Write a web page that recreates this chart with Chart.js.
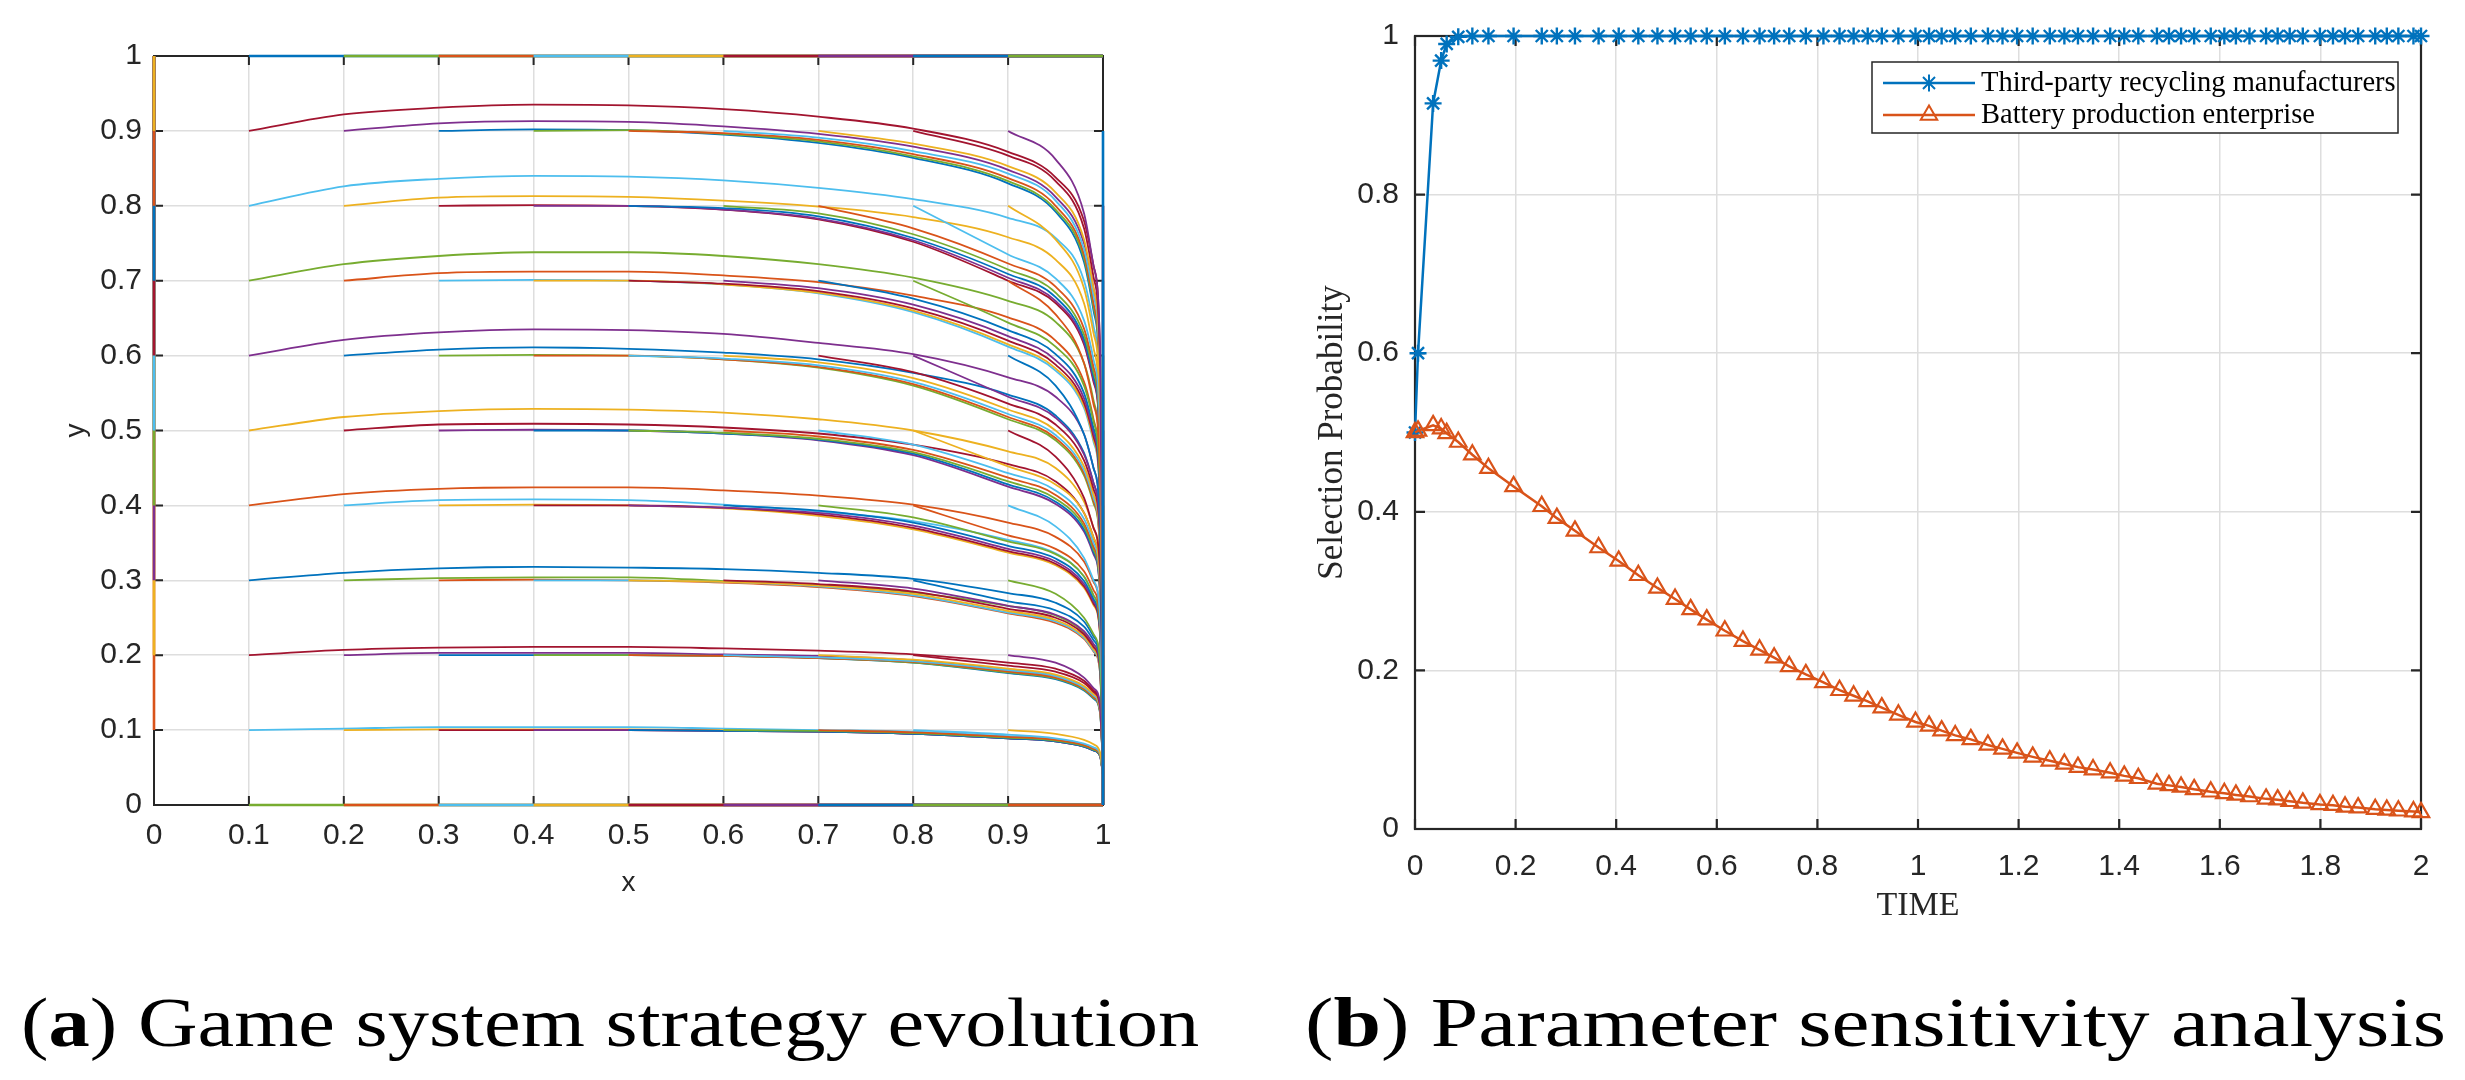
<!DOCTYPE html>
<html>
<head>
<meta charset="utf-8">
<script src="https://cdn.jsdelivr.net/npm/chart.js@4.4.0/dist/chart.umd.min.js"></script>
<style>
  body { margin: 0; background: #fff; width: 2465px; height: 1080px; position: relative; overflow: hidden; }
  #wrapA { position: absolute; left: 0; top: 0; width: 1232px; height: 960px; }
  #wrapB { position: absolute; left: 1232px; top: 0; width: 1233px; height: 960px; }
  .cap { position: absolute; font-family: "Liberation Serif", serif; font-size: 70px; line-height: 70px;
         white-space: nowrap; color: #000; transform-origin: 0 0; }
</style>
</head>
<body>
<div id="wrapA"><canvas id="chartA" width="1232" height="960"></canvas></div>
<div id="wrapB"><canvas id="chartB" width="1233" height="960"></canvas></div>
<div class="cap" data-w="1178" style="left:21px;top:988px">(<b>a</b>) Game system strategy evolution</div>
<div class="cap" data-w="1141" style="left:1305px;top:988px">(<b>b</b>) Parameter sensitivity analysis</div>

<script>
// === DATA (a): phase trajectories ===
const matlabColors = ['#0072BD', '#D95319', '#EDB120', '#7E2F8E', '#77AC30', '#4DBEEE', '#A2142F'];
const startLevels = [0.1, 0.2, 0.3, 0.4, 0.5, 0.6, 0.7, 0.8, 0.9];
const xGrid = [0.1, 0.2, 0.3, 0.4, 0.5, 0.6, 0.7, 0.8, 0.9, 0.95, 0.98, 0.99, 0.997, 1];

// each row: curves starting at x0 = 0.1 ... 0.9, y values on the tail of xGrid
const rowY10 = [
  [0.100,0.102,0.104,0.104,0.104,0.102,0.100,0.098,0.092,0.088,0.081,0.076,0.067,0.040],
  [0.100,0.101,0.101,0.101,0.100,0.098,0.096,0.090,0.086,0.079,0.074,0.066,0.040],
  [0.100,0.100,0.100,0.099,0.098,0.095,0.089,0.085,0.078,0.073,0.065,0.040],
  [0.100,0.100,0.099,0.098,0.095,0.089,0.085,0.078,0.073,0.065,0.040],
  [0.100,0.099,0.098,0.095,0.089,0.085,0.078,0.073,0.065,0.040],
  [0.100,0.099,0.096,0.090,0.086,0.079,0.074,0.066,0.040],
  [0.100,0.097,0.091,0.087,0.080,0.075,0.067,0.040],
  [0.100,0.094,0.089,0.082,0.077,0.068,0.040],
  [0.100,0.095,0.087,0.081,0.070,0.040]
];
const rowY20 = [
  [0.200,0.207,0.210,0.211,0.211,0.209,0.206,0.201,0.190,0.182,0.166,0.153,0.132,0.050],
  [0.200,0.203,0.203,0.203,0.201,0.199,0.193,0.180,0.172,0.157,0.145,0.125,0.050],
  [0.200,0.200,0.200,0.199,0.196,0.190,0.176,0.168,0.153,0.142,0.122,0.050],
  [0.200,0.200,0.199,0.196,0.190,0.177,0.169,0.154,0.143,0.123,0.050],
  [0.200,0.199,0.196,0.191,0.178,0.170,0.155,0.144,0.124,0.050],
  [0.200,0.197,0.192,0.180,0.172,0.157,0.146,0.126,0.050],
  [0.200,0.194,0.182,0.174,0.159,0.148,0.128,0.050],
  [0.200,0.186,0.178,0.163,0.151,0.130,0.050],
  [0.200,0.190,0.170,0.156,0.134,0.050]
];
const rowY30 = [
  [0.300,0.310,0.316,0.318,0.317,0.315,0.310,0.302,0.283,0.270,0.245,0.225,0.190,0.060],
  [0.300,0.303,0.304,0.304,0.299,0.294,0.284,0.266,0.253,0.230,0.212,0.180,0.060],
  [0.300,0.301,0.300,0.297,0.291,0.279,0.256,0.243,0.222,0.205,0.175,0.060],
  [0.300,0.300,0.298,0.292,0.280,0.257,0.245,0.223,0.206,0.176,0.060],
  [0.300,0.298,0.293,0.282,0.259,0.247,0.225,0.208,0.178,0.060],
  [0.300,0.295,0.285,0.262,0.250,0.228,0.211,0.180,0.060],
  [0.300,0.289,0.266,0.254,0.232,0.215,0.183,0.060],
  [0.300,0.272,0.260,0.238,0.220,0.187,0.060],
  [0.300,0.282,0.250,0.228,0.190,0.060]
];
const rowY40 = [
  [0.400,0.415,0.422,0.424,0.424,0.420,0.413,0.401,0.377,0.358,0.325,0.298,0.250,0.070],
  [0.400,0.407,0.408,0.407,0.401,0.392,0.379,0.354,0.336,0.305,0.280,0.235,0.070],
  [0.400,0.401,0.400,0.396,0.386,0.368,0.337,0.320,0.290,0.267,0.225,0.070],
  [0.400,0.400,0.397,0.388,0.370,0.339,0.322,0.292,0.269,0.227,0.070],
  [0.400,0.397,0.390,0.373,0.342,0.325,0.295,0.272,0.229,0.070],
  [0.400,0.393,0.377,0.346,0.329,0.299,0.275,0.232,0.070],
  [0.400,0.384,0.352,0.335,0.305,0.280,0.236,0.070],
  [0.400,0.360,0.342,0.312,0.287,0.242,0.070],
  [0.400,0.372,0.330,0.300,0.250,0.070]
];
const rowY50 = [
  [0.500,0.518,0.526,0.529,0.528,0.524,0.515,0.500,0.472,0.450,0.405,0.370,0.305,0.080],
  [0.500,0.508,0.509,0.508,0.504,0.496,0.481,0.455,0.432,0.390,0.357,0.295,0.080],
  [0.500,0.501,0.500,0.496,0.487,0.467,0.425,0.402,0.365,0.335,0.280,0.080],
  [0.500,0.500,0.496,0.488,0.469,0.428,0.405,0.368,0.338,0.282,0.080],
  [0.500,0.497,0.489,0.471,0.432,0.409,0.372,0.341,0.285,0.080],
  [0.500,0.492,0.474,0.437,0.414,0.376,0.345,0.288,0.080],
  [0.500,0.481,0.443,0.420,0.382,0.350,0.292,0.080],
  [0.500,0.452,0.428,0.390,0.357,0.298,0.080],
  [0.500,0.465,0.410,0.370,0.310,0.080]
];
const rowY60 = [
  [0.600,0.621,0.631,0.635,0.634,0.629,0.617,0.602,0.571,0.545,0.495,0.450,0.370,0.090],
  [0.600,0.608,0.611,0.609,0.604,0.595,0.577,0.548,0.520,0.470,0.430,0.355,0.090],
  [0.600,0.601,0.600,0.595,0.584,0.560,0.515,0.487,0.440,0.403,0.335,0.090],
  [0.600,0.600,0.595,0.585,0.562,0.518,0.490,0.443,0.406,0.337,0.090],
  [0.600,0.596,0.587,0.565,0.522,0.494,0.447,0.410,0.340,0.090],
  [0.600,0.591,0.570,0.528,0.500,0.452,0.415,0.344,0.090],
  [0.600,0.578,0.536,0.508,0.460,0.422,0.350,0.090],
  [0.600,0.545,0.517,0.468,0.430,0.356,0.090],
  [0.600,0.560,0.495,0.450,0.370,0.090]
];
const rowY70 = [
  [0.700,0.722,0.733,0.738,0.738,0.733,0.722,0.704,0.673,0.645,0.590,0.540,0.440,0.100],
  [0.700,0.710,0.712,0.712,0.707,0.698,0.680,0.651,0.620,0.565,0.515,0.420,0.100],
  [0.700,0.701,0.700,0.695,0.683,0.658,0.612,0.580,0.530,0.485,0.400,0.100],
  [0.700,0.700,0.695,0.684,0.660,0.615,0.583,0.533,0.488,0.402,0.100],
  [0.700,0.696,0.686,0.663,0.620,0.588,0.537,0.492,0.405,0.100],
  [0.700,0.690,0.668,0.626,0.594,0.543,0.497,0.410,0.100],
  [0.700,0.676,0.634,0.602,0.550,0.503,0.415,0.100],
  [0.700,0.644,0.612,0.560,0.512,0.420,0.100],
  [0.700,0.655,0.590,0.535,0.440,0.100]
];
const rowY80 = [
  [0.800,0.826,0.836,0.840,0.839,0.834,0.824,0.809,0.784,0.757,0.700,0.640,0.520,0.110],
  [0.800,0.811,0.813,0.812,0.807,0.799,0.785,0.758,0.728,0.670,0.610,0.500,0.110],
  [0.800,0.801,0.800,0.795,0.782,0.752,0.700,0.670,0.615,0.565,0.470,0.110],
  [0.800,0.800,0.795,0.783,0.754,0.704,0.673,0.618,0.568,0.472,0.110],
  [0.800,0.797,0.786,0.757,0.709,0.678,0.622,0.572,0.475,0.110],
  [0.800,0.790,0.762,0.715,0.684,0.628,0.578,0.480,0.110],
  [0.800,0.770,0.723,0.692,0.636,0.585,0.485,0.110],
  [0.800,0.735,0.703,0.647,0.595,0.490,0.110],
  [0.800,0.755,0.690,0.630,0.520,0.110]
];
const rowY90 = [
  [0.900,0.922,0.931,0.935,0.934,0.929,0.919,0.903,0.872,0.838,0.780,0.720,0.600,0.120],
  [0.900,0.910,0.913,0.912,0.906,0.896,0.879,0.848,0.812,0.750,0.690,0.570,0.120],
  [0.900,0.902,0.901,0.895,0.884,0.864,0.830,0.792,0.725,0.660,0.540,0.120],
  [0.900,0.901,0.896,0.886,0.866,0.833,0.795,0.730,0.665,0.545,0.120],
  [0.900,0.897,0.888,0.869,0.837,0.800,0.735,0.670,0.550,0.120],
  [0.900,0.891,0.873,0.843,0.807,0.742,0.680,0.560,0.120],
  [0.900,0.883,0.853,0.818,0.755,0.690,0.570,0.120],
  [0.900,0.867,0.833,0.770,0.705,0.585,0.120],
  [0.900,0.862,0.790,0.720,0.600,0.120]
];
const rowsByLevel = [rowY10, rowY20, rowY30, rowY40, rowY50, rowY60, rowY70, rowY80, rowY90];

// === DATA (b): sensitivity ===
const timePoints = [0, 0.006, 0.036, 0.052, 0.063, 0.086, 0.114, 0.146, 0.196, 0.252, 0.282, 0.318, 0.365,
  0.405, 0.444, 0.482, 0.517, 0.548, 0.580, 0.616, 0.652, 0.685, 0.714, 0.744, 0.777, 0.812, 0.844,
  0.872, 0.900, 0.928, 0.961, 0.995, 1.022, 1.047, 1.074, 1.105, 1.139, 1.168, 1.197, 1.228, 1.262,
  1.291, 1.318, 1.348, 1.382, 1.410, 1.438, 1.475, 1.499, 1.523, 1.549, 1.582, 1.609, 1.632, 1.659,
  1.692, 1.715, 1.739, 1.765, 1.799, 1.825, 1.849, 1.875, 1.909, 1.932, 1.955, 1.985, 2.000];
const thirdParty = [0.500, 0.600, 0.915, 0.969, 0.990, 0.999, 1, 1, 1, 1, 1, 1, 1,
  1, 1, 1, 1, 1, 1, 1, 1, 1, 1, 1, 1, 1, 1,
  1, 1, 1, 1, 1, 1, 1, 1, 1, 1, 1, 1, 1, 1,
  1, 1, 1, 1, 1, 1, 1, 1, 1, 1, 1, 1, 1, 1,
  1, 1, 1, 1, 1, 1, 1, 1, 1, 1, 1, 1, 1];
const battery = [0.500, 0.502, 0.509, 0.505, 0.499, 0.488, 0.472, 0.455, 0.432, 0.407, 0.392, 0.376, 0.355,
  0.338, 0.320, 0.304, 0.290, 0.277, 0.264, 0.250, 0.237, 0.226, 0.216, 0.205, 0.195, 0.185, 0.175,
  0.168, 0.161, 0.153, 0.144, 0.135, 0.130, 0.124, 0.118, 0.113, 0.106, 0.101, 0.096, 0.091, 0.086,
  0.082, 0.078, 0.075, 0.071, 0.067, 0.064, 0.057, 0.055, 0.053, 0.050, 0.047, 0.045, 0.043, 0.041,
  0.038, 0.037, 0.035, 0.033, 0.031, 0.030, 0.028, 0.027, 0.025, 0.024, 0.023, 0.022, 0.021];
const seriesNames = ['Third-party recycling manufacturers', 'Battery production enterprise'];

// === PLUGINS ===
// MATLAB-like box with inward ticks on all four sides
const matlabBox = {
  id: 'matlabBox',
  beforeDatasetsDraw(chart, args, opts) {
    const { ctx, chartArea: a, scales } = chart;
    ctx.save();
    ctx.strokeStyle = opts.color;
    ctx.lineWidth = opts.width;
    ctx.strokeRect(a.left, a.top, a.right - a.left, a.bottom - a.top);
    ctx.beginPath();
    scales.x.ticks.forEach(t => {
      const px = scales.x.getPixelForValue(t.value);
      ctx.moveTo(px, a.bottom); ctx.lineTo(px, a.bottom - opts.tick);
      ctx.moveTo(px, a.top); ctx.lineTo(px, a.top + opts.tick);
    });
    scales.y.ticks.forEach(t => {
      const py = scales.y.getPixelForValue(t.value);
      ctx.moveTo(a.left, py); ctx.lineTo(a.left + opts.tick, py);
      ctx.moveTo(a.right, py); ctx.lineTo(a.right - opts.tick, py);
    });
    ctx.stroke();
    ctx.restore();
  }
};

const drawMarker = (ctx, style, x, y, r) => {
  ctx.beginPath();
  if (style === 'star') {
    for (let k = 0; k < 4; k++) {
      const ang = k * Math.PI / 4;
      ctx.moveTo(x - Math.cos(ang) * r, y - Math.sin(ang) * r);
      ctx.lineTo(x + Math.cos(ang) * r, y + Math.sin(ang) * r);
    }
  } else {
    ctx.moveTo(x, y - r);
    ctx.lineTo(x + r * 0.866, y + r * 0.5);
    ctx.lineTo(x - r * 0.866, y + r * 0.5);
    ctx.closePath();
  }
  ctx.stroke();
};

// boxed legend inside the plot, top right
const boxLegend = {
  id: 'boxLegend',
  afterDatasetsDraw(chart, args, opts) {
    const { ctx, chartArea: a } = chart;
    const x0 = a.right - opts.right - opts.width;
    const y0 = a.top + opts.top;
    ctx.save();
    ctx.fillStyle = '#fff';
    ctx.fillRect(x0, y0, opts.width, opts.height);
    ctx.strokeStyle = '#262626';
    ctx.lineWidth = 1.5;
    ctx.strokeRect(x0, y0, opts.width, opts.height);
    chart.data.datasets.forEach((ds, k) => {
      const y = y0 + opts.rowTop + k * opts.rowGap;
      ctx.strokeStyle = ds.borderColor;
      ctx.lineWidth = 2.5;
      ctx.beginPath();
      ctx.moveTo(x0 + 11, y); ctx.lineTo(x0 + 103, y);
      ctx.stroke();
      ctx.lineWidth = 2;
      drawMarker(ctx, ds.pointStyle, x0 + 57, y, ds.pointRadius);
      ctx.fillStyle = '#000';
      ctx.font = opts.font;
      ctx.textBaseline = 'middle';
      ctx.fillText(ds.label, x0 + 109, y + 1);
    });
    ctx.restore();
  }
};

// MATLAB style tick text: 0, 0.1, ..., 1
const plainTick = v => String(Math.round(v * 1000) / 1000);

// === CHART (a) ===
const leftSets = [];
const addTraj = (i, j, pts, smooth) => {
  const n = 11 * i + j;
  leftSets.push({
    data: pts,
    showLine: true,
    borderColor: matlabColors[n % 7],
    borderWidth: smooth ? 1.8 : 2.6,
    pointRadius: 0,
    tension: 0,
    cubicInterpolationMode: smooth ? 'monotone' : 'default',
    clip: 4,
    order: -n
  });
};
startLevels.forEach((y0, k) => addTraj(0, k + 1, [{ x: 0, y: y0 }, { x: 0, y: 1 }], false));
startLevels.forEach((x0, k) => {
  const i = k + 1;
  addTraj(i, 0, [{ x: x0, y: 0 }, { x: 1, y: 0 }], false);
  rowsByLevel.forEach((row, r) => {
    const vals = row[k];
    const xs = xGrid.slice(xGrid.length - vals.length);
    addTraj(i, r + 1, vals.map((v, m) => ({ x: xs[m], y: v })), true);
  });
  addTraj(i, 10, [{ x: x0, y: 1 }, { x: 1, y: 1 }], false);
});
startLevels.forEach((y0, k) => addTraj(10, k + 1, [{ x: 1, y: y0 }, { x: 1, y: 0 }], false));

Chart.defaults.font.family = '"Liberation Sans", Arial, sans-serif';

const tickFontA = { size: 30 };
new Chart(document.getElementById('chartA'), {
  type: 'scatter',
  data: { datasets: leftSets },
  options: {
    responsive: false,
    animation: false,
    layout: { padding: { left: 59, top: 56, right: 129, bottom: 60 } },
    plugins: {
      legend: { display: false },
      tooltip: { enabled: false },
      matlabBox: { color: '#262626', width: 2, tick: 9 }
    },
    scales: {
      x: {
        type: 'linear', min: 0, max: 1,
        afterFit: s => { s.height = 95; },
        ticks: { stepSize: 0.1, autoSkip: false, maxRotation: 0, padding: 13, color: '#262626', font: tickFontA,
                 callback: plainTick },
        grid: { color: '#dedede', lineWidth: 1.5, drawTicks: false },
        border: { display: false },
        title: { display: true, text: 'x', color: '#262626', font: { size: 28 }, padding: 0 }
      },
      y: {
        type: 'linear', min: 0, max: 1,
        afterFit: s => { s.width = 95; },
        ticks: { stepSize: 0.1, autoSkip: false, padding: 12, color: '#262626', font: tickFontA,
                 callback: plainTick },
        grid: { color: '#dedede', lineWidth: 1.5, drawTicks: false },
        border: { display: false },
        title: { display: true, text: 'y', color: '#262626', font: { size: 28 }, padding: 0 }
      }
    }
  },
  plugins: [matlabBox]
});

// === CHART (b) ===
const serifFont = '"Liberation Serif", "Times New Roman", serif';
new Chart(document.getElementById('chartB'), {
  type: 'scatter',
  data: {
    datasets: [
      {
        label: seriesNames[0],
        data: timePoints.map((t, k) => ({ x: t, y: thirdParty[k] })),
        showLine: true,
        borderColor: '#0072BD',
        backgroundColor: '#0072BD',
        borderWidth: 2.5,
        pointStyle: 'star',
        pointRadius: 8.5,
        pointBorderWidth: 2.4,
        pointBorderColor: '#0072BD',
        clip: false,
        order: 1
      },
      {
        label: seriesNames[1],
        data: timePoints.map((t, k) => ({ x: t, y: battery[k] })),
        showLine: true,
        borderColor: '#D95319',
        backgroundColor: 'rgba(0,0,0,0)',
        borderWidth: 2.5,
        pointStyle: 'triangle',
        pointRadius: 9.5,
        pointBorderWidth: 2.2,
        pointBorderColor: '#D95319',
        pointBackgroundColor: 'rgba(0,0,0,0)',
        clip: false,
        order: 0
      }
    ]
  },
  options: {
    responsive: false,
    animation: false,
    layout: { padding: { left: 80, top: 36, right: 44, bottom: 34 } },
    plugins: {
      legend: { display: false },
      tooltip: { enabled: false },
      matlabBox: { color: '#262626', width: 2.2, tick: 10 },
      boxLegend: { width: 526, height: 71, right: 23, top: 26, rowTop: 21, rowGap: 32,
                   font: '28.5px ' + serifFont }
    },
    scales: {
      x: {
        type: 'linear', min: 0, max: 2,
        afterFit: s => { s.height = 97; },
        ticks: { stepSize: 0.2, autoSkip: false, maxRotation: 0, padding: 20, color: '#262626', font: { size: 30 },
                 callback: plainTick },
        grid: { color: '#dedede', lineWidth: 1.5, drawTicks: false },
        border: { display: false },
        title: { display: true, text: 'TIME', color: '#262626', font: { family: serifFont, size: 34 }, padding: 0 }
      },
      y: {
        type: 'linear', min: 0, max: 1,
        afterFit: s => { s.width = 103; },
        ticks: { stepSize: 0.2, autoSkip: false, padding: 16, color: '#262626', font: { size: 30 },
                 callback: plainTick },
        grid: { color: '#dedede', lineWidth: 1.5, drawTicks: false },
        border: { display: false },
        title: { display: true, text: 'Selection Probability', color: '#262626', font: { family: serifFont, size: 35 }, padding: 0 }
      }
    }
  },
  plugins: [matlabBox, boxLegend]
});

// stretch captions to the width they take in the figure
document.querySelectorAll('.cap').forEach(el => {
  const target = Number(el.dataset.w);
  el.style.transform = `scaleX(${target / el.offsetWidth})`;
});
</script>
</body>
</html>
